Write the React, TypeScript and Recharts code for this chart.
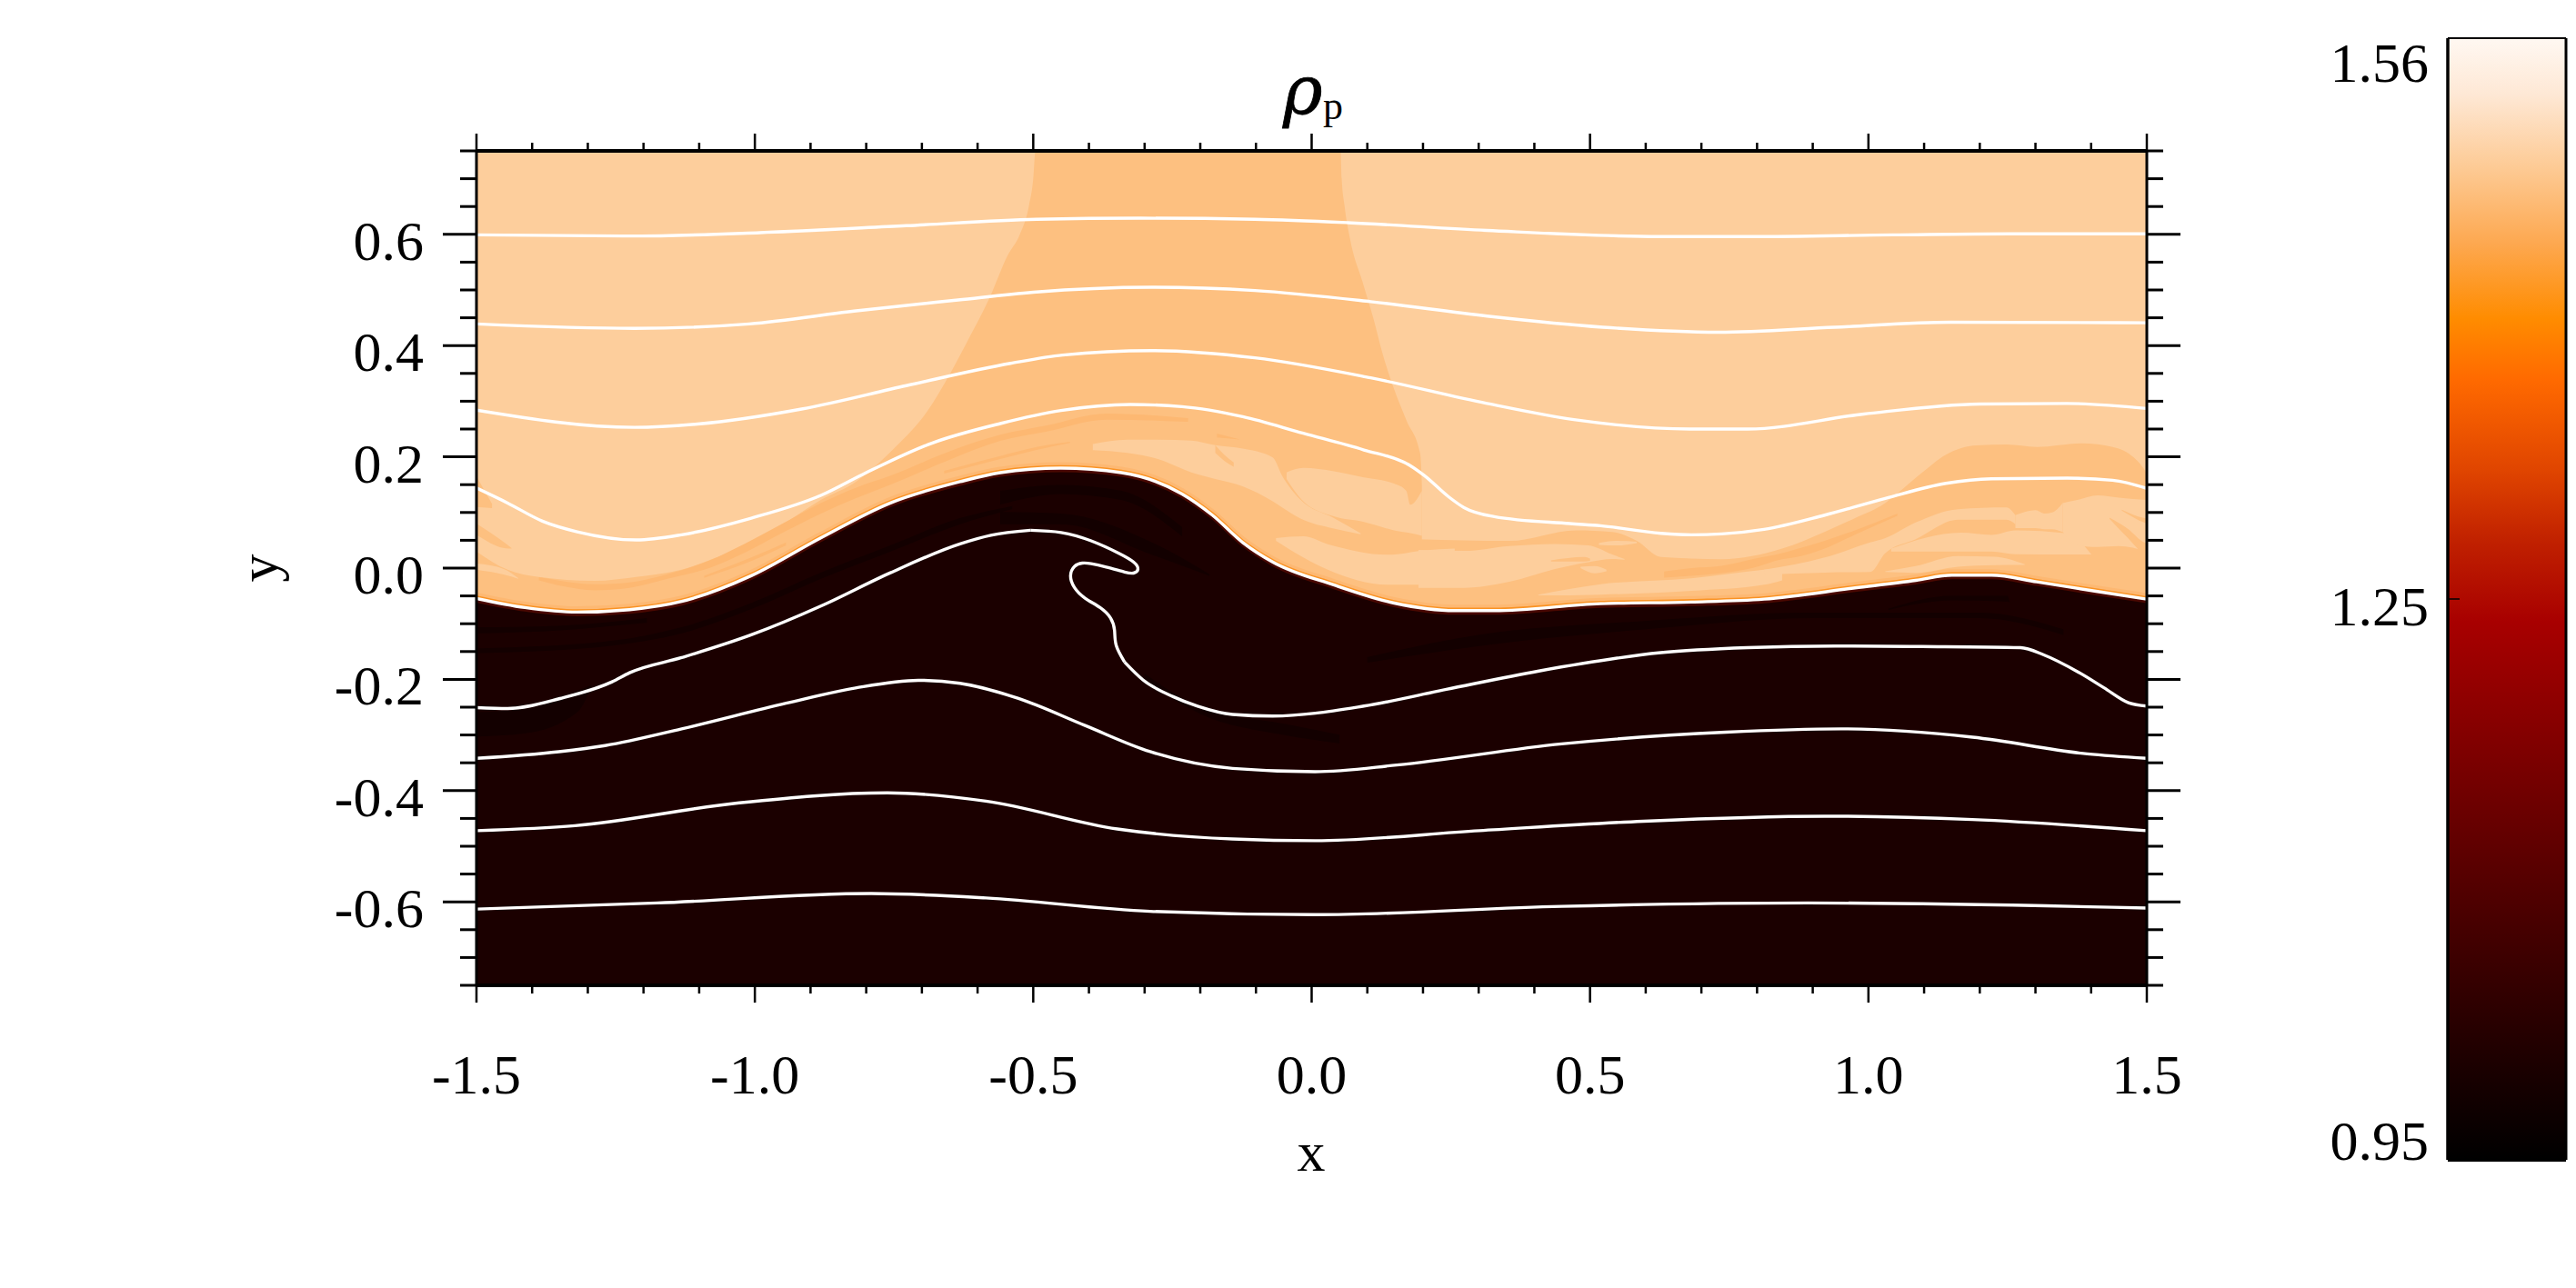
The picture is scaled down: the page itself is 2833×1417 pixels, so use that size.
import { ComposedChart, Area, Line, XAxis, YAxis } from "recharts";

type Pt = [number, number];
type Band = [number, number, number];

// streamlines, x then y
const line1: Pt[] = [[-1.5, 0.599], [-1.216, 0.597], [-0.991, 0.603], [-0.728, 0.6155], [-0.494, 0.627], [-0.307, 0.629], [-0.102, 0.627], [0.065, 0.621], [0.315, 0.607], [0.627, 0.596], [0.783, 0.596], [1.044, 0.599], [1.252, 0.601], [1.5, 0.601]];
const line2: Pt[] = [[-1.5, 0.439], [-1.216, 0.431], [-1.01, 0.439], [-0.822, 0.462], [-0.635, 0.482], [-0.5, 0.496], [-0.288, 0.505], [-0.102, 0.499], [0.106, 0.479], [0.315, 0.453], [0.523, 0.433], [0.731, 0.424], [0.94, 0.433], [1.148, 0.442], [1.5, 0.441]];
const line3: Pt[] = [[-1.5, 0.284], [-1.216, 0.253], [-1.103, 0.259], [-0.916, 0.286], [-0.728, 0.328], [-0.541, 0.368], [-0.447, 0.383], [-0.288, 0.391], [-0.102, 0.378], [0.106, 0.342], [0.315, 0.296], [0.471, 0.267], [0.679, 0.25], [0.783, 0.25], [0.992, 0.277], [1.2, 0.295], [1.356, 0.296], [1.5, 0.287]];
const line4: Pt[] = [[-1.5, 0.144], [-1.444, 0.117], [-1.3815, 0.0844], [-1.319, 0.0653], [-1.2127, 0.0506], [-1.1315, 0.0599], [-1.0065, 0.0898], [-0.8815, 0.1307], [-0.8, 0.1716], [-0.681, 0.225], [-0.5593, 0.2598], [-0.4504, 0.2832], [-0.3252, 0.2941], [-0.2327, 0.2903], [-0.1238, 0.2723], [-0.0149, 0.2423], [0.0939, 0.2124], [0.1756, 0.1851], [0.2028, 0.1661], [0.2464, 0.1279], [0.2737, 0.1088], [0.328, 0.0925], [0.464, 0.08], [0.5186, 0.0761], [0.6275, 0.0625], [0.682, 0.0598], [0.7364, 0.0614], [0.8126, 0.0696], [0.9215, 0.0952], [1.0303, 0.1252], [1.1392, 0.1524], [1.221, 0.1606], [1.357, 0.1617], [1.4386, 0.1579], [1.5, 0.1432]];
const iface: Pt[] = [[-1.5, -0.0546], [-1.413, -0.0709], [-1.319, -0.0791], [-1.225, -0.0747], [-1.1315, -0.06], [-1.0065, -0.0137], [-0.8815, 0.0544], [-0.7565, 0.1171], [-0.6315, 0.1553], [-0.5593, 0.1715], [-0.4504, 0.1797], [-0.3416, 0.1715], [-0.2327, 0.1333], [-0.1783, 0.0952], [-0.1238, 0.0461], [-0.0694, 0.0107], [0.0395, -0.0302], [0.1484, -0.0629], [0.2572, -0.0765], [0.328, -0.0765], [0.5186, -0.064], [0.682, -0.061], [0.8126, -0.0558], [0.976, -0.0356], [1.085, -0.022], [1.15, -0.0127], [1.221, -0.0127], [1.3025, -0.0247], [1.4114, -0.0421], [1.5, -0.0558]];
const line6a: Pt[] = [[-1.5, -0.2508], [-1.444, -0.2524], [-1.35, -0.2345], [-1.2565, -0.2045], [-1.225, -0.1881], [-1.1315, -0.1609], [-1.0065, -0.12], [-0.8815, -0.0682], [-0.7565, -0.0083], [-0.6315, 0.0435], [-0.576, 0.059], [-0.505, 0.068]];
const line6b: Pt[] = [[-0.505, 0.068], [-0.45, 0.064], [-0.396, 0.049], [-0.347, 0.027], [-0.32, 0.011], [-0.312, -0.002], [-0.32, -0.009], [-0.336, -0.007], [-0.369, 0.002], [-0.396, 0.008], [-0.412, 0.009], [-0.426, 0.003], [-0.433, -0.014], [-0.426, -0.035], [-0.407, -0.054], [-0.38, -0.071], [-0.361, -0.09], [-0.354, -0.112], [-0.351, -0.139], [-0.336, -0.169]];
const line6c: Pt[] = [[-0.336, -0.169], [-0.303, -0.201], [-0.249, -0.231], [-0.205, -0.248], [-0.142, -0.263], [-0.07, -0.266], [0.094, -0.248], [0.242, -0.218], [0.408, -0.185], [0.627, -0.152], [0.783, -0.143], [0.94, -0.14], [1.096, -0.141], [1.273, -0.143], [1.315, -0.156], [1.377, -0.187], [1.423, -0.215], [1.467, -0.242], [1.5, -0.248]];
const line7: Pt[] = [[-1.5, -0.342], [-1.352, -0.33], [-1.269, -0.319], [-1.1315, -0.289], [-0.944, -0.243], [-0.819, -0.2154], [-0.7065, -0.2017], [-0.6315, -0.2072], [-0.5265, -0.2344], [-0.407, -0.283], [-0.29, -0.33], [-0.142, -0.36], [0.006, -0.366], [0.153, -0.354], [0.449, -0.316], [0.744, -0.295], [0.951, -0.289], [1.187, -0.304], [1.393, -0.334], [1.5, -0.342]];
const line8: Pt[] = [[-1.5, -0.472], [-1.323, -0.463], [-1.028, -0.422], [-0.762, -0.404], [-0.585, -0.419], [-0.349, -0.469], [-0.142, -0.487], [0.006, -0.49], [0.301, -0.472], [0.596, -0.455], [0.921, -0.446], [1.187, -0.452], [1.5, -0.472]];
const line9: Pt[] = [[-1.5, -0.613], [-1.175, -0.602], [-0.791, -0.585], [-0.585, -0.593], [-0.29, -0.617], [0.006, -0.623], [0.449, -0.608], [0.892, -0.602], [1.5, -0.611]];
const smoothLines = [line1, line2, line3, line4, line6a, line6c, line7, line8, line9];

// density field, each band is x, lower y, upper y
const fullField: Band[] = [[-1.5, -0.75, 0.75], [1.5, -0.75, 0.75]];
const midLeft: Band[] = [[-1.5, -0.1, 0.03], [-1.444, -0.1, -0.003], [-1.388, -0.1, -0.016], [-1.288, -0.1, -0.023], [-1.213, -0.1, -0.016], [-1.132, -0.1, -0.003], [-1.069, -0.1, 0.019], [-1.006, -0.1, 0.044], [-0.944, -0.1, 0.082], [-0.881, -0.1, 0.123], [-0.819, -0.1, 0.155], [-0.797, -0.1, 0.172], [-0.747, -0.1, 0.218], [-0.691, -0.1, 0.281], [-0.649, -0.1, 0.35], [-0.616, -0.1, 0.412], [-0.578, -0.1, 0.487], [-0.546, -0.1, 0.562], [-0.524, -0.1, 0.6], [-0.508, -0.1, 0.65], [-0.5, -0.1, 0.7], [-0.496, -0.1, 0.75], [0.052, -0.1, 0.75], [0.054, -0.1, 0.7], [0.059, -0.1, 0.652], [0.07, -0.1, 0.587], [0.091, -0.1, 0.516], [0.112, -0.1, 0.445], [0.127, -0.1, 0.387], [0.148, -0.1, 0.322], [0.171, -0.1, 0.264], [0.195, -0.1, 0.206], [0.198, -0.1, 0.15]];
const midRight: Band[] = [[0.192, -0.1, 0.052], [0.355, -0.1, 0.049], [0.475, -0.1, 0.068], [0.54, -0.1, 0.065], [0.584, -0.1, 0.049], [0.627, -0.1, 0.02], [0.736, -0.1, 0.016], [0.845, -0.1, 0.035], [0.921, -0.1, 0.065], [0.976, -0.1, 0.09], [1.03, -0.1, 0.117], [1.0576, -0.1, 0.139], [1.0957, -0.1, 0.171], [1.1392, -0.1, 0.204], [1.1937, -0.1, 0.2206], [1.248, -0.1, 0.2222], [1.3025, -0.1, 0.2179], [1.3842, -0.1, 0.2244], [1.4386, -0.1, 0.2179], [1.4767, -0.1, 0.1988], [1.4958, -0.1, 0.177], [1.5, -0.1, 0.17]];
const lightPatches: Band[][] = [
  [[-0.393, 0.212, 0.223], [-0.331, 0.207, 0.231], [-0.276, 0.196, 0.231], [-0.216, 0.172, 0.229], [-0.173, 0.16, 0.221], [-0.124, 0.147, 0.215], [-0.07, 0.12, 0.199], [-0.053, 0.109, 0.166], [-0.02, 0.089, 0.123], [0.04, 0.071, 0.09], [0.088, 0.061, 0.0625]],
  [[-0.045, 0.16, 0.172], [-0.015, 0.12, 0.18], [0.04, 0.093, 0.174], [0.094, 0.083, 0.163], [0.148, 0.068, 0.152], [0.17, 0.064, 0.139], [0.177, 0.063, 0.114], [0.198, 0.058, 0.139]],
  [[-0.064, 0.049, 0.054], [-0.015, 0.019, 0.057], [0.029, -0.003, 0.043], [0.137, -0.03, 0.024], [0.203, -0.03, 0.032], [0.257, -0.025, 0.035]],
  [[0.192, -0.0356, 0.0325], [0.274, -0.0356, 0.0309], [0.355, -0.0247, 0.0396], [0.437, -0.0018, 0.0434], [0.497, 0.0107, 0.0407], [0.54, 0.0162, 0.0244], [0.562, 0.0151, 0.0162]],
  [[0.483, -0.0002, 0.0026], [0.508, -0.0094, 0.0036], [0.5295, -0.0056, -0.003]],
  [[0.516, 0.0418, 0.0451], [0.546, 0.0407, 0.0489], [0.584, 0.0451, 0.0473]],
  [[0.407, -0.0492, -0.0476], [0.519, -0.0476, -0.029], [0.682, -0.041, -0.0182], [0.8126, -0.03, -0.003], [0.845, -0.022, 0]],
  [[0.8126, -0.012, -0.003], [0.9215, -0.008, 0.019], [1.003, -0.007, 0.046], [1.0303, 0.027, 0.054], [1.0848, 0.052, 0.082], [1.161, 0.087, 0.106], [1.248, 0.087, 0.109], [1.264, 0.079, 0.095]],
  [[1.264, 0.072, 0.095], [1.3, 0.072, 0.104], [1.316, 0.07, 0.098], [1.33, 0.07, 0.1], [1.3488, 0.065, 0.117]],
  [[1.041, 0.03, 0.035], [1.1664, 0.03, 0.0636], [1.221, 0.03, 0.0598], [1.2644, 0.025, 0.068], [1.357, 0.0244, 0.0625], [1.4005, 0.0244, 0.0244]],
  [[1.0303, -0.007, -0.0056], [1.0848, -0.0084, 0.0036], [1.161, 0.0025, 0.0216], [1.2263, 0.0053, 0.0205], [1.2807, 0.0058, 0.0069]],
  [[1.3488, 0.0652, 0.117], [1.3733, 0.0418, 0.122], [1.4114, 0.038, 0.1306], [1.4495, 0.0396, 0.1268], [1.5, 0.03, 0.1224]],
  [[-1.5, -0.003, 0.008], [-1.45, -0.012, -0.002], [-1.425, -0.019, -0.018]],
];
const midRibbons: Band[][] = [
  [[-0.173, 0.207, 0.221], [-0.157, 0.193, 0.204], [-0.14, 0.182, 0.19]],
  [[0.43, 0.012, 0.014], [0.49, 0.012, 0.02], [0.5, 0.013, 0.017]],
  [[1.433, 0.0887, 0.0908], [1.4658, 0.0543, 0.0707], [1.4958, 0.0244, 0.0462], [1.5, 0.022, 0.045]],
  [[1.455, 0.1035, 0.105], [1.4958, 0.0816, 0.0898], [1.5, 0.08, 0.089]],
  [[-1.5, 0.11, 0.165], [-1.472, 0.108, 0.115]],
  [[-1.5, 0.06, 0.08], [-1.45, 0.036, 0.046], [-1.437, 0.035, 0.036]],
];
const orangeStripes: Band[][] = [
  [[-1.388, -0.0219, -0.0164], [-1.344, -0.0328, -0.0235], [-1.288, -0.0399, -0.029], [-1.225, -0.0355, -0.0257], [-1.157, -0.0192, -0.011], [-1.082, 0, 0.0136], [-1.019, 0.0272, 0.0435], [-0.957, 0.0599, 0.0762], [-0.881, 0.098, 0.1171], [-0.819, 0.1253, 0.1444], [-0.7565, 0.1498, 0.1662], [-0.65, 0.195, 0.21], [-0.5593, 0.2287, 0.2396], [-0.4777, 0.245, 0.256], [-0.3688, 0.2669, 0.2778], [-0.2218, 0.263, 0.2696]],
  [[-1.091, -0.0175, -0.0137], [-1.0065, 0.0125, 0.019], [-0.944, 0.0408, 0.0462]],
  [[-0.66, 0.17, 0.175], [-0.5593, 0.196, 0.2015], [-0.494, 0.2124, 0.2178], [-0.434, 0.2249, 0.2271]],
  [[-0.17, 0.235, 0.242], [-0.13, 0.2312, 0.2318]],
  [[0.633, -0.017, -0.006], [0.682, -0.014, 0], [0.736, -0.009, 0.004], [0.791, 0, 0.016], [0.845, 0.016, 0.027], [0.867, 0.019, 0.033], [0.9215, 0.035, 0.049], [0.9759, 0.06, 0.068], [1.052, 0.094, 0.098]],
];
const darkStreaks: Band[][] = [
  [[-0.5593, 0.1143, 0.1388], [-0.4504, 0.1333, 0.1497], [-0.3416, 0.1225, 0.1388], [-0.2327, 0.057, 0.0734]],
  [[-0.5593, 0.0788, 0.1007], [-0.4504, 0.0788, 0.0979], [-0.2871, 0.0243, 0.0461], [-0.1837, -0.0138, -0.0111]],
  [[-1.497, -0.1173, -0.1064], [-1.35, -0.1118, -0.1037], [-1.194, -0.0982, -0.09]],
  [[-1.497, -0.1527, -0.1445], [-1.2565, -0.1391, -0.1309], [-1.1315, -0.1173, -0.1064], [-1.0065, -0.0737, -0.0628], [-0.8815, -0.0192, -0.0083], [-0.7565, 0.0299, 0.0408], [-0.6315, 0.0789, 0.0898], [-0.5378, 0.1062, 0.1117]],
  [[-1.497, -0.3025, -0.259], [-1.413, -0.297, -0.2535], [-1.319, -0.2589, -0.2208], [-1.294, -0.215, -0.21]],
  [[-0.3, -0.2, -0.19], [-0.2, -0.262, -0.25], [-0.05, -0.3, -0.28], [0.05, -0.315, -0.3]],
  [[0.1, -0.17, -0.16], [0.3, -0.14, -0.12], [0.6, -0.11, -0.095], [0.9, -0.09, -0.08], [1.2, -0.09, -0.08], [1.35, -0.12, -0.11]],
  [[1.036, -0.075, -0.073], [1.15, -0.058, -0.05], [1.25, -0.06, -0.05], [1.253, -0.062, -0.06]],
];

const xTicks = [-1.5, -1.4, -1.3, -1.2, -1.1, -1.0, -0.9, -0.8, -0.7, -0.6, -0.5, -0.4, -0.3, -0.2, -0.1, 0, 0.1, 0.2, 0.3, 0.4, 0.5, 0.6, 0.7, 0.8, 0.9, 1.0, 1.1, 1.2, 1.3, 1.4, 1.5];
const yTicks = [-0.75, -0.7, -0.65, -0.6, -0.55, -0.5, -0.45, -0.4, -0.35, -0.3, -0.25, -0.2, -0.15, -0.1, -0.05, 0, 0.05, 0.1, 0.15, 0.2, 0.25, 0.3, 0.35, 0.4, 0.45, 0.5, 0.55, 0.6, 0.65, 0.7, 0.75];
const xMajor = [-1.5, -1, -0.5, 0, 0.5, 1, 1.5];
const yMajor = [-0.6, -0.4, -0.2, 0, 0.2, 0.4, 0.6];

const barTicks = [0.95, 1.255, 1.56];
const barLabels = ["0.95", "1.25", "1.56"];
const barLabelY = [0, 29, 48];
const barStops: [number, string][] = [[0, "#fff8f2"], [5, "#fee8d5"], [11.6, "#fdca94"], [18.3, "#fda850"], [25, "#ff8c00"], [30.4, "#ff6a00"], [38.5, "#e04500"], [45, "#c02000"], [52, "#a80000"], [65.5, "#770000"], [79, "#470000"], [92, "#1a0000"], [100, "#000000"]];

const FONT = "'Liberation Serif', serif";
const near = (list: number[], v: number) => list.some((m) => Math.abs(m - v) < 1e-6);

const toBand = (d: Band) => ({ x: d[0], range: [d[1], d[2]] });
const toLine = (d: Pt) => ({ x: d[0], y: d[1] });

function BottomTick({ x, y, payload }: any) {
  const major = near(xMajor, payload.value);
  return (
    <g>
      <line x1={x} x2={x} y1={y} y2={y + (major ? 19 : 9)} stroke="#000" strokeWidth={2.5} />
      {major && (
        <text x={x} y={y + 119} textAnchor="middle" fontFamily={FONT} fontSize={62} fill="#000">
          {payload.value.toFixed(1)}
        </text>
      )}
    </g>
  );
}

function TopTick({ x, y, payload }: any) {
  const major = near(xMajor, payload.value);
  return <line x1={x} x2={x} y1={y} y2={y - (major ? 19 : 9)} stroke="#000" strokeWidth={2.5} />;
}

function LeftTick({ x, y, payload }: any) {
  const major = near(yMajor, payload.value);
  return (
    <g>
      <line x1={x} x2={x - (major ? 37 : 18)} y1={y} y2={y} stroke="#000" strokeWidth={3} />
      {major && (
        <text x={x - 58} y={y + 28} textAnchor="end" fontFamily={FONT} fontSize={62} fill="#000">
          {payload.value.toFixed(1)}
        </text>
      )}
    </g>
  );
}

function RightTick({ x, y, payload }: any) {
  const major = near(yMajor, payload.value);
  return <line x1={x} x2={x + (major ? 37 : 18)} y1={y} y2={y} stroke="#000" strokeWidth={3} />;
}

function BarLeftTick({ x, y, payload, index }: any) {
  const inner = index === 1;
  return (
    <g>
      {inner && <line x1={x} x2={x + 13} y1={y} y2={y} stroke="#000" strokeWidth={1.5} />}
      <text x={x - 21} y={y + barLabelY[index]} textAnchor="end" fontFamily={FONT} fontSize={62} fill="#000">
        {barLabels[index]}
      </text>
    </g>
  );
}

function BarRightTick({ x, y, index }: any) {
  return index === 1 ? <line x1={x} x2={x - 13} y1={y} y2={y} stroke="#000" strokeWidth={1.5} /> : <g />;
}

const bandArea = (data: Band[], fill: string, key: string) => (
  <Area
    key={key}
    data={data.map(toBand)}
    dataKey="range"
    type="monotone"
    fill={fill}
    fillOpacity={1}
    stroke="none"
    dot={false}
    activeDot={false}
    isAnimationActive={false}
  />
);

export default function App() {
  return (
    <div style={{ position: "absolute", left: 0, top: 0, width: 2833, height: 1417, background: "#fff" }}>
      <style>{`.rim-pale{transform:translateY(-3px)} .rim-up{transform:translateY(-1.5px)} .rim-down{transform:translateY(2.5px)}`}</style>
      <div style={{ position: "absolute", left: 0, top: 0 }}>
        <ComposedChart width={2620} height={1417} margin={{ top: 0, right: 0, bottom: 0, left: 0 }}>
          <XAxis dataKey="x" type="number" domain={[-1.5, 1.5]} ticks={xTicks} interval={0} height={333} tick={<BottomTick />} tickLine={false} tickSize={0} tickMargin={0} axisLine={{ stroke: "#000", strokeWidth: 4 }} allowDataOverflow />
          <XAxis xAxisId="top" orientation="top" dataKey="x" type="number" domain={[-1.5, 1.5]} ticks={xTicks} interval={0} height={166} tick={<TopTick />} tickLine={false} tickSize={0} tickMargin={0} axisLine={{ stroke: "#000", strokeWidth: 4 }} allowDataOverflow />
          <YAxis type="number" domain={[-0.75, 0.75]} ticks={yTicks} interval={0} width={524} tick={<LeftTick />} tickLine={false} tickSize={0} tickMargin={0} axisLine={{ stroke: "#000", strokeWidth: 3 }} allowDataOverflow />
          <YAxis yAxisId="right" orientation="right" type="number" domain={[-0.75, 0.75]} ticks={yTicks} interval={0} width={259} tick={<RightTick />} tickLine={false} tickSize={0} tickMargin={0} axisLine={{ stroke: "#000", strokeWidth: 3 }} allowDataOverflow />

          {bandArea(fullField, "#fdce9c", "field")}
          {bandArea(midLeft, "#fdc080", "midLeft")}
          {bandArea(midRight, "#fdc080", "midRight")}
          {lightPatches.map((p, i) => bandArea(p, "#fdce9c", `light${i}`))}
          {midRibbons.map((p, i) => bandArea(p, "#fdc080", `ribbon${i}`))}
          {orangeStripes.map((p, i) => bandArea(p, "#fdb872", `stripe${i}`))}

          <Line data={iface.map(toLine)} dataKey="y" className="rim-pale" type="monotone" stroke="#fdb872" strokeWidth={7} dot={false} activeDot={false} isAnimationActive={false} />
          <Line data={iface.map(toLine)} dataKey="y" className="rim-up" type="monotone" stroke="#f98a10" strokeWidth={3.5} strokeOpacity={0.8} dot={false} activeDot={false} isAnimationActive={false} />
          <Area data={iface.map(([x, y]) => ({ x, range: [-0.75, y] }))} dataKey="range" type="monotone" fill="#1b0000" fillOpacity={1} stroke="none" dot={false} activeDot={false} isAnimationActive={false} />
          {darkStreaks.map((p, i) => bandArea(p, "#130000", `dark${i}`))}
          <Line data={iface.map(toLine)} dataKey="y" className="rim-down" type="monotone" stroke="#4a0800" strokeWidth={4} dot={false} activeDot={false} isAnimationActive={false} />

          <Line data={iface.map(toLine)} dataKey="y" type="monotone" stroke="#fff" strokeWidth={3.4} dot={false} activeDot={false} isAnimationActive={false} />
          {smoothLines.map((s, i) => (
            <Line key={i} data={s.map(toLine)} dataKey="y" type="monotone" stroke="#fff" strokeWidth={3.4} dot={false} activeDot={false} isAnimationActive={false} />
          ))}
          <Line data={line6b.map(toLine)} dataKey="y" type="natural" stroke="#fff" strokeWidth={3.4} dot={false} activeDot={false} isAnimationActive={false} />

          <text x={1411} y={125} fontFamily="'DejaVu Serif', serif" fontStyle="italic" fontSize={74} fill="#000" stroke="#000" strokeWidth={0.8}>ρ</text>
          <text x={1455} y={131} fontFamily={FONT} fontSize={44} fill="#000">p</text>
          <text x={1442} y={1288} textAnchor="middle" fontFamily={FONT} fontSize={62} fill="#000">x</text>
          <text x={0} y={0} transform="translate(305,625) rotate(-90)" textAnchor="middle" fontFamily={FONT} fontSize={62} fill="#000">y</text>
        </ComposedChart>
      </div>
      <div style={{ position: "absolute", left: 2560, top: 0 }}>
        <ComposedChart width={273} height={1417} margin={{ top: 0, right: 0, bottom: 0, left: 0 }}>
          <defs>
            <linearGradient id="rhoScale" x1="0" y1="0" x2="0" y2="1">
              {barStops.map(([p, c]) => (
                <stop key={p} offset={`${p}%`} stopColor={c} />
              ))}
            </linearGradient>
          </defs>
          <XAxis dataKey="x" type="number" domain={[0, 1]} ticks={[]} height={141} tickLine={false} axisLine={{ stroke: "#000", strokeWidth: 4 }} />
          <XAxis xAxisId="top" orientation="top" dataKey="x" type="number" domain={[0, 1]} ticks={[]} height={42} tickLine={false} axisLine={{ stroke: "#000", strokeWidth: 2 }} />
          <YAxis type="number" domain={[0.95, 1.56]} ticks={barTicks} interval={0} width={132} tick={<BarLeftTick />} tickLine={false} tickSize={0} tickMargin={0} axisLine={{ stroke: "#000", strokeWidth: 3.5 }} />
          <YAxis yAxisId="right" orientation="right" type="number" domain={[0.95, 1.56]} ticks={barTicks} interval={0} width={11} tick={<BarRightTick />} tickLine={false} tickSize={0} tickMargin={0} axisLine={{ stroke: "#000", strokeWidth: 3 }} />
          <Area data={[{ x: 0, range: [0.95, 1.56] }, { x: 1, range: [0.95, 1.56] }]} dataKey="range" type="linear" fill="url(#rhoScale)" fillOpacity={1} stroke="none" dot={false} activeDot={false} isAnimationActive={false} />
        </ComposedChart>
      </div>
    </div>
  );
}
